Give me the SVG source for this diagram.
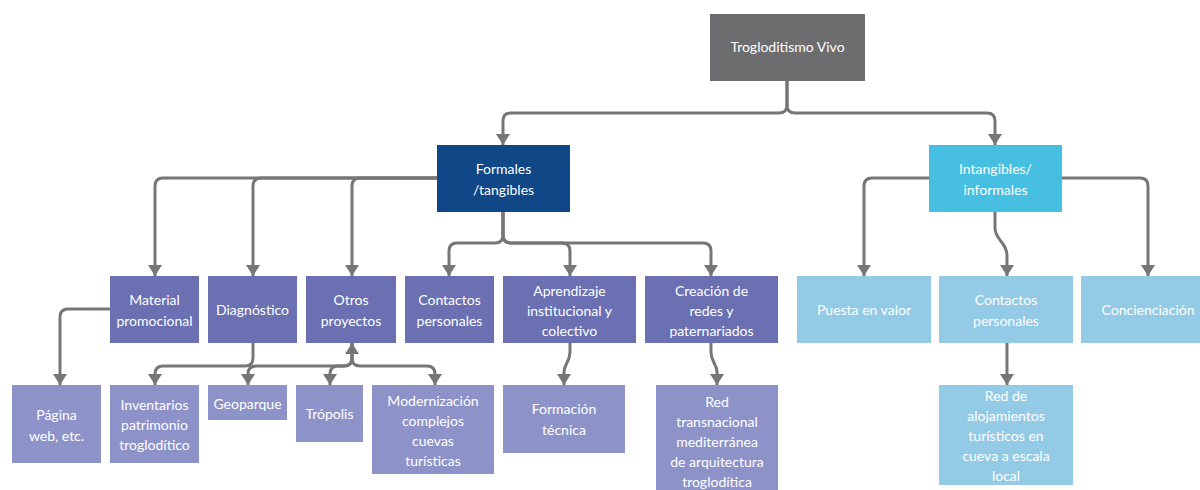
<svg xmlns="http://www.w3.org/2000/svg" width="1200" height="490" viewBox="0 0 1200 490">
  <style>
    .lbl { font-family: Lato, "Noto Sans", "Liberation Sans", sans-serif; font-size: 14px; fill: #ffffff; text-anchor: middle; }
    .root { fill: #6d6d6f; }
    .formal { fill: #0f4787; }
    .intang { fill: #46bfe3; }
    .lvl2 { fill: #6a70b1; }
    .lvl3 { fill: #8d92c9; }
    .soft { fill: #93cbe7; }
    .edge { fill: none; stroke: #767676; stroke-width: 3; }
  </style>
  <defs>
    <marker id="arr" viewBox="0 0 11 14" refX="11" refY="7" markerWidth="11" markerHeight="14" markerUnits="userSpaceOnUse" orient="auto-start-reverse">
      <path d="M0,0 L11,7 L0,14 z" fill="#767676"/>
    </marker>
  </defs>
  <rect width="1200" height="490" fill="#ffffff"/>

  <g id="connectors">
    <path class="edge" marker-end="url(#arr)" d="M787,80 V105 Q787,113 779,113 H511 Q503,113 503,121 V145"/>
    <path class="edge" marker-end="url(#arr)" d="M787,80 V105 Q787,113 795,113 H987 Q995,113 995,121 V145"/>
    <path class="edge" marker-end="url(#arr)" d="M437,178 H163 Q155,178 155,186 V276"/>
    <path class="edge" marker-end="url(#arr)" d="M437,178 H261 Q253,178 253,186 V276"/>
    <path class="edge" marker-end="url(#arr)" d="M437,178 H360 Q352,178 352,186 V276"/>
    <path class="edge" marker-end="url(#arr)" d="M503,212 V235 Q503,243 495,243 H457 Q449,243 449,251 V276"/>
    <path class="edge" marker-end="url(#arr)" d="M503,212 V235 Q503,243 511,243 H562 Q570,243 570,251 V276"/>
    <path class="edge" marker-end="url(#arr)" d="M503,212 V235 Q503,243 511,243 H703 Q711,243 711,251 V276"/>
    <path class="edge" marker-end="url(#arr)" d="M929,178 H872 Q864,178 864,186 V276"/>
    <path class="edge" marker-end="url(#arr)" d="M1062,178 H1140 Q1148,178 1148,186 V276"/>
    <path class="edge" marker-end="url(#arr)" d="M995,212 V228 C995,240 1007,242 1007,256 V276"/>
    <path class="edge" marker-end="url(#arr)" d="M1007,343 V385"/>
    <path class="edge" marker-end="url(#arr)" d="M110,309 H68 Q60,309 60,317 V385"/>
    <path class="edge" marker-end="url(#arr)" d="M253,343 V358 Q253,366 245,366 H163 Q155,366 155,374 V385"/>
    <path class="edge" marker-start="url(#arr)" marker-end="url(#arr)" d="M352,343 V358 Q352,366 344,366 H256 Q248,366 248,374 V385"/>
    <path class="edge" marker-end="url(#arr)" d="M352,343 V358 Q352,366 344,366 H338 Q330,366 330,374 V385"/>
    <path class="edge" marker-end="url(#arr)" d="M352,343 V358 Q352,366 360,366 H427 Q435,366 435,374 V385"/>
    <path class="edge" marker-end="url(#arr)" d="M570,343 V352 C570,362 564,364 564,372 V385"/>
    <path class="edge" marker-end="url(#arr)" d="M711,343 V352 C711,362 717,364 717,372 V385"/>
  </g>

  <g id="n-root">
    <rect class="root" x="710" y="14" width="155" height="67"/>
    <text class="lbl" x="787.5" y="52">Trogloditismo Vivo</text>
  </g>
  <g id="n-formales">
    <rect class="formal" x="437" y="145" width="133" height="67"/>
    <text class="lbl" x="503.5" y="174">Formales</text>
    <text class="lbl" x="503.5" y="195">/tangibles</text>
  </g>
  <g id="n-intangibles">
    <rect class="intang" x="929" y="145" width="133" height="67"/>
    <text class="lbl" x="995.5" y="174">Intangibles/</text>
    <text class="lbl" x="995.5" y="195">informales</text>
  </g>

  <g id="n-material">
    <rect class="lvl2" x="110" y="276" width="89" height="67"/>
    <text class="lbl" x="154.5" y="305">Material</text>
    <text class="lbl" x="154.5" y="326">promocional</text>
  </g>
  <g id="n-diagnostico">
    <rect class="lvl2" x="208" y="276" width="89" height="67"/>
    <text class="lbl" x="252.5" y="315">Diagnóstico</text>
  </g>
  <g id="n-otros">
    <rect class="lvl2" x="306" y="276" width="90" height="67"/>
    <text class="lbl" x="351" y="305">Otros</text>
    <text class="lbl" x="351" y="326">proyectos</text>
  </g>
  <g id="n-contactos-f">
    <rect class="lvl2" x="405" y="276" width="89" height="67"/>
    <text class="lbl" x="449.5" y="305">Contactos</text>
    <text class="lbl" x="449.5" y="326">personales</text>
  </g>
  <g id="n-aprendizaje">
    <rect class="lvl2" x="503" y="276" width="133" height="67"/>
    <text class="lbl" x="569.5" y="296">Aprendizaje</text>
    <text class="lbl" x="569.5" y="316">institucional y</text>
    <text class="lbl" x="569.5" y="336">colectivo</text>
  </g>
  <g id="n-creacion">
    <rect class="lvl2" x="645" y="276" width="133" height="67"/>
    <text class="lbl" x="711.5" y="296">Creación de</text>
    <text class="lbl" x="711.5" y="316">redes y</text>
    <text class="lbl" x="711.5" y="336">paternariados</text>
  </g>

  <g id="n-puesta">
    <rect class="soft" x="797" y="276" width="134" height="67"/>
    <text class="lbl" x="864" y="315">Puesta en valor</text>
  </g>
  <g id="n-contactos-i">
    <rect class="soft" x="939" y="276" width="134" height="67"/>
    <text class="lbl" x="1006" y="305">Contactos</text>
    <text class="lbl" x="1006" y="326">personales</text>
  </g>
  <g id="n-concienciacion">
    <rect class="soft" x="1081" y="276" width="134" height="67"/>
    <text class="lbl" x="1148" y="315">Concienciación</text>
  </g>

  <g id="n-pagina">
    <rect class="lvl3" x="12" y="385" width="89" height="78"/>
    <text class="lbl" x="56.5" y="420">Página</text>
    <text class="lbl" x="56.5" y="441">web, etc.</text>
  </g>
  <g id="n-inventarios">
    <rect class="lvl3" x="110" y="385" width="89" height="78"/>
    <text class="lbl" x="154.5" y="410">Inventarios</text>
    <text class="lbl" x="154.5" y="430">patrimonio</text>
    <text class="lbl" x="154.5" y="450">troglodítico</text>
  </g>
  <g id="n-geoparque">
    <rect class="lvl3" x="208" y="385" width="79" height="35"/>
    <text class="lbl" x="247.5" y="409">Geoparque</text>
  </g>
  <g id="n-tropolis">
    <rect class="lvl3" x="296" y="385" width="67" height="57"/>
    <text class="lbl" x="329.5" y="419">Trópolis</text>
  </g>
  <g id="n-modernizacion">
    <rect class="lvl3" x="372" y="385" width="122" height="89"/>
    <text class="lbl" x="433" y="406">Modernización</text>
    <text class="lbl" x="433" y="426">complejos</text>
    <text class="lbl" x="433" y="446">cuevas</text>
    <text class="lbl" x="433" y="466">turísticas</text>
  </g>
  <g id="n-formacion">
    <rect class="lvl3" x="503" y="385" width="122" height="68"/>
    <text class="lbl" x="564" y="414">Formación</text>
    <text class="lbl" x="564" y="435">técnica</text>
  </g>
  <g id="n-red-trans">
    <rect class="lvl3" x="656" y="385" width="122" height="110"/>
    <text class="lbl" x="717" y="407">Red</text>
    <text class="lbl" x="717" y="427">transnacional</text>
    <text class="lbl" x="717" y="447">mediterránea</text>
    <text class="lbl" x="717" y="467">de arquitectura</text>
    <text class="lbl" x="717" y="487">troglodítica</text>
  </g>
  <g id="n-red-aloj">
    <rect class="soft" x="939" y="385" width="134" height="100"/>
    <text class="lbl" x="1006" y="401">Red de</text>
    <text class="lbl" x="1006" y="421">alojamientos</text>
    <text class="lbl" x="1006" y="441">turísticos en</text>
    <text class="lbl" x="1006" y="461">cueva a escala</text>
    <text class="lbl" x="1006" y="481">local</text>
  </g>
</svg>
